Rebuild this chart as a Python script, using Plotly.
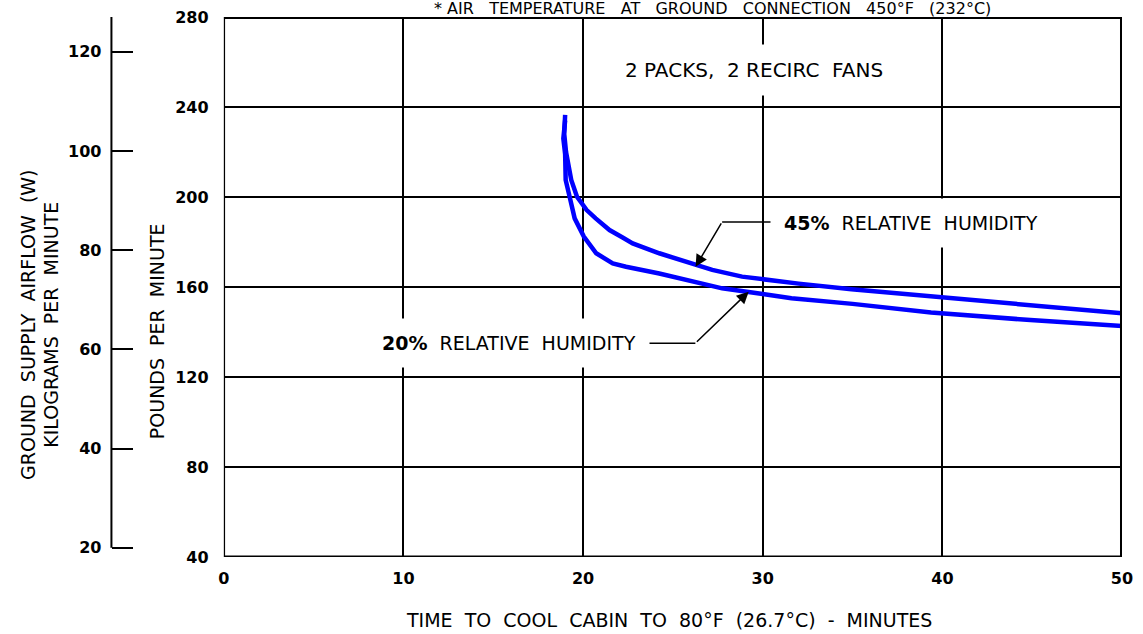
import plotly.graph_objects as go

# ---- data ----
time_45 = [19.0, 18.95, 19.05, 19.2, 19.34, 19.66, 20.2, 20.7, 21.47, 22.2, 22.76, 24.24,
           25.53, 26.45, 27.19, 28.85, 30.0, 32.0, 34.94, 39.96, 44.9, 50.0]
lbs_45 = [236.5, 228.0, 220.0, 214.0, 207.6, 200.1, 194.2, 190.5, 185.3, 182.0, 179.4, 175.0,
          171.8, 169.0, 167.6, 164.6, 163.4, 161.5, 159.0, 155.3, 151.6, 148.3]

time_20 = [19.0, 18.9, 19.0, 19.03, 19.25, 19.4, 19.53, 20.04, 20.73, 21.65, 22.39, 24.24,
           26.08, 27.74, 30.0, 31.6, 35.0, 39.37, 44.9, 50.0]
lbs_20 = [234.0, 226.0, 219.0, 207.6, 200.1, 194.2, 190.5, 182.4, 175.0, 170.5, 169.0, 166.0,
          162.4, 159.4, 156.9, 155.0, 152.5, 148.7, 145.3, 142.7]

x_ticks = [0, 10, 20, 30, 40, 50]
lb_ticks = [40, 80, 120, 160, 200, 240, 280]
kg_ticks = [20, 40, 60, 80, 100, 120]
LB_TO_KG = 0.45359237

# label / leader positions (data coords)
label_45 = (38.26, 188.4)
label_20 = (15.9, 135.1)
label_packs = (29.5, 256.4)
leader_45 = [(30.68, 188.9), (27.74, 188.9), (26.26, 169.0)]
leader_20 = [(23.48, 135.0), (26.25, 135.0), (29.22, 157.9)]

FONT = "DejaVu Sans"
W, H = 1143, 634
ML, MR, MT, MB = 0, 21, 17, 77
PW = W - ML - MR
PH = H - MT - MB
PLOT_LEFT = 219


def px_x(px):
    return (px - ML) / PW


def px_y(py):
    return (H - MB - py) / PH


fig = go.Figure()
fig.add_trace(go.Scatter(x=time_45, y=lbs_45, mode="lines",
                         line=dict(color="#0000ff", width=4.5), hoverinfo="skip",
                         showlegend=False))
fig.add_trace(go.Scatter(x=time_20, y=lbs_20, mode="lines",
                         line=dict(color="#0000ff", width=4.5), hoverinfo="skip",
                         showlegend=False))
# invisible trace to bind the kg axis
fig.add_trace(go.Scatter(x=time_45, y=[v * LB_TO_KG for v in lbs_45], yaxis="y2",
                         mode="lines", line=dict(color="rgba(0,0,0,0)", width=0),
                         hoverinfo="skip", showlegend=False))

tickfont = dict(family=FONT, size=16, color="black", weight="bold")

fig.update_layout(
    width=W, height=H,
    margin=dict(l=ML, r=MR, t=MT, b=MB),
    paper_bgcolor="white", plot_bgcolor="white",
    showlegend=False,
    xaxis=dict(domain=[px_x(PLOT_LEFT), 1], range=[0, 50], tickvals=x_ticks,
               ticks="outside", ticklen=7, tickcolor="rgba(0,0,0,0)",
               showgrid=True, gridcolor="black", gridwidth=2, zeroline=False,
               showline=False, tickfont=tickfont, fixedrange=True),
    yaxis=dict(range=[40, 280], tickvals=lb_ticks, ticks="outside", ticklen=11,
               tickcolor="rgba(0,0,0,0)", showgrid=True, gridcolor="black", gridwidth=2,
               zeroline=False, showline=False, tickfont=tickfont, fixedrange=True),
    yaxis2=dict(range=[40 * LB_TO_KG, 280 * LB_TO_KG], tickvals=kg_ticks,
                overlaying="y", anchor="free", position=px_x(106), side="left",
                ticks="inside", ticklen=21, tickwidth=2, tickcolor="black",
                showgrid=False, zeroline=False, showline=False, tickfont=tickfont,
                ticklabelstandoff=10, fixedrange=True),
)

shapes = []
# frame
shapes.append(dict(type="line", xref="x", yref="y", x0=0, x1=0, y0=40, y1=280,
                   line=dict(color="black", width=2.5)))
shapes.append(dict(type="line", xref="x", yref="y", x0=0, x1=50, y0=40, y1=40,
                   line=dict(color="black", width=3)))
shapes.append(dict(type="line", xref="x", yref="y", x0=0, x1=50, y0=280, y1=280,
                   line=dict(color="black", width=4)))
shapes.append(dict(type="line", xref="x", yref="y", x0=50, x1=50, y0=40, y1=280,
                   line=dict(color="black", width=4)))
# kg axis line
shapes.append(dict(type="line", xref="paper", yref="y2", x0=px_x(106), x1=px_x(106),
                   y0=20, y1=280 * LB_TO_KG, line=dict(color="black", width=2)))
# horizontal parts of leaders
for pts in (leader_45, leader_20):
    shapes.append(dict(type="line", xref="x", yref="y", x0=pts[0][0], y0=pts[0][1],
                       x1=pts[1][0], y1=pts[1][1], line=dict(color="black", width=1.5)))
fig.update_layout(shapes=shapes)

annots = []
for txt, pos, size in (("2 PACKS,\u00a0 2 RECIRC\u00a0 FANS", label_packs, 20),
                       ("<b>45%</b>\u00a0 RELATIVE\u00a0 HUMIDITY", label_45, 19),
                       ("<b>20%</b>\u00a0 RELATIVE\u00a0 HUMIDITY", label_20, 19)):
    annots.append(dict(x=pos[0], y=pos[1], xref="x", yref="y", text=txt, showarrow=False,
                       xanchor="center", yanchor="middle",
                       font=dict(family=FONT, size=size, color="black"),
                       bgcolor="white", borderpad=13))
# arrows
for pts in (leader_45, leader_20):
    annots.append(dict(x=pts[2][0], y=pts[2][1], xref="x", yref="y",
                       ax=pts[1][0], ay=pts[1][1], axref="x", ayref="y",
                       text="", showarrow=True, arrowhead=2, arrowsize=1.6,
                       arrowwidth=1.5, arrowcolor="black", standoff=0, startstandoff=0))


def paper_text(text, px, py, size, angle=0):
    return dict(x=px_x(px), y=px_y(py), xref="paper", yref="paper", text=text,
                textangle=angle, showarrow=False, xanchor="center", yanchor="middle",
                font=dict(family=FONT, size=size, color="black"))


G = "\u00a0\u00a0\u00a0"
annots.append(paper_text("*" + " AIR" + G + "TEMPERATURE" + G + "AT" + G + "GROUND" + G
                         + "CONNECTION" + G + "450°F" + G + "(232°C)", 710, 8, 16))
annots.append(paper_text("TIME\u00a0 TO\u00a0 COOL\u00a0 CABIN\u00a0 TO\u00a0 80°F\u00a0 (26.7°C)\u00a0 -\u00a0 MINUTES",
                         667, 620, 19))
annots.append(paper_text("POUNDS\u00a0 PER\u00a0 MINUTE", 152, 331, 19, -90))
annots.append(paper_text("GROUND\u00a0 SUPPLY\u00a0 AIRFLOW\u00a0 (W)", 22, 325, 19, -90))
annots.append(paper_text("KILOGRAMS\u00a0 PER\u00a0 MINUTE", 45, 325, 19, -90))
fig.update_layout(annotations=annots)

fig.write_html("out.html", config={"displayModeBar": False},
               post_script="document.body.style.margin='0';")
